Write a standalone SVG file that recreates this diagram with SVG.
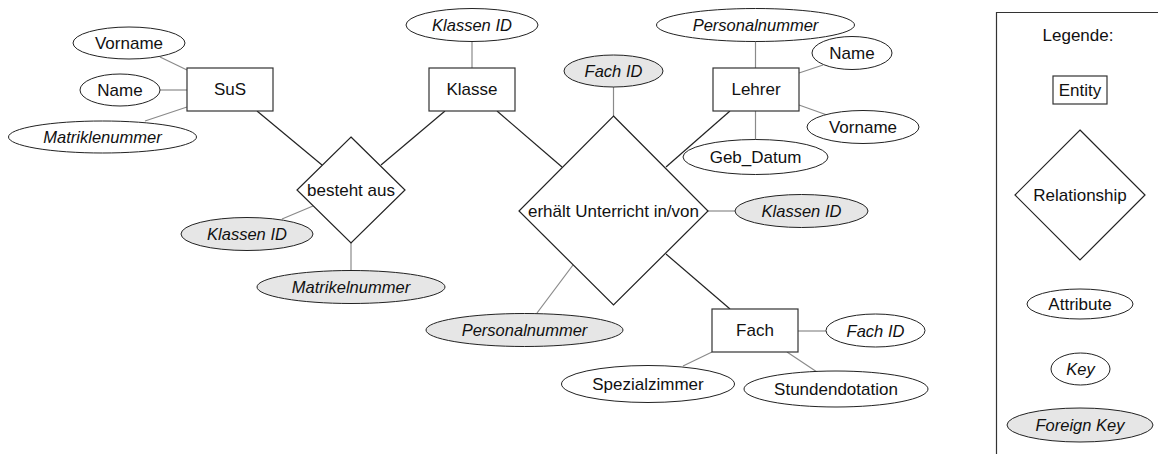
<svg xmlns="http://www.w3.org/2000/svg" width="1158" height="454" viewBox="0 0 1158 454">
<style>
text{font-family:"Liberation Sans",Arial,sans-serif;font-size:17px;fill:#111;text-anchor:middle;dominant-baseline:central}
.k{font-style:italic;font-size:16.5px}
.ent{fill:#fff;stroke:#333;stroke-width:1.2}
.rel{fill:#fff;stroke:#222;stroke-width:1.2}
.att{fill:#fff;stroke:#222;stroke-width:1}
.fk{fill:#e6e6e6;stroke:#222;stroke-width:1}
.c{stroke:#222;stroke-width:1.2;fill:none}
.a{stroke:#8a8a8a;stroke-width:1.2;fill:none}
</style>
<rect width="1158" height="454" fill="#fff"/>
<g id="connectors">
<line class="c" x1="257" y1="111" x2="322" y2="165"/>
<line class="c" x1="445" y1="111" x2="381" y2="165"/>
<line class="c" x1="497" y1="111" x2="562" y2="167"/>
<line class="c" x1="730" y1="111" x2="666" y2="167"/>
<line class="c" x1="666" y1="254" x2="730" y2="309"/>
<line class="a" x1="160" y1="57" x2="187" y2="70"/>
<line class="a" x1="160" y1="90" x2="187" y2="90"/>
<line class="a" x1="145" y1="121" x2="187" y2="107"/>
<line class="a" x1="472" y1="41" x2="472" y2="68"/>
<line class="a" x1="613.5" y1="87" x2="613.5" y2="116"/>
<line class="a" x1="755.5" y1="41" x2="755.5" y2="68"/>
<line class="a" x1="799" y1="73" x2="823" y2="65"/>
<line class="a" x1="799" y1="105" x2="827" y2="115"/>
<line class="a" x1="755.5" y1="111" x2="755.5" y2="140"/>
<line class="a" x1="282" y1="219" x2="313" y2="206"/>
<line class="a" x1="351" y1="243" x2="351" y2="270"/>
<line class="a" x1="708" y1="211" x2="735" y2="211"/>
<line class="a" x1="537" y1="313" x2="573" y2="265"/>
<line class="a" x1="798" y1="331" x2="826" y2="331"/>
<line class="a" x1="712" y1="352" x2="683" y2="366"/>
<line class="a" x1="787" y1="352" x2="817" y2="372"/>
</g>
<g id="SuS"><rect class="ent" x="187" y="68" width="86" height="43"/><text x="230" y="89.5">SuS</text></g>
<g id="SuS_Vorname"><ellipse class="att" cx="129" cy="43" rx="56" ry="16"/><text x="129" y="43">Vorname</text></g>
<g id="SuS_Name"><ellipse class="att" cx="120" cy="90" rx="40" ry="16"/><text x="120" y="90">Name</text></g>
<g id="SuS_Matriklenummer"><ellipse class="att" cx="102.5" cy="137" rx="94" ry="16"/><text class="k" x="102.5" y="137">Matriklenummer</text></g>
<g id="Klasse"><rect class="ent" x="429" y="68" width="86" height="43"/><text x="472" y="89.5">Klasse</text></g>
<g id="Klasse_KlassenID"><ellipse class="att" cx="472" cy="25" rx="66" ry="16.5"/><text class="k" x="472" y="25">Klassen ID</text></g>
<g id="Lehrer"><rect class="ent" x="713" y="68" width="86" height="43"/><text x="756" y="89.5">Lehrer</text></g>
<g id="Lehrer_Personalnummer"><ellipse class="att" cx="755.5" cy="25" rx="99" ry="16.5"/><text class="k" x="755.5" y="25">Personalnummer</text></g>
<g id="Lehrer_Name"><ellipse class="att" cx="852" cy="53" rx="40" ry="16.5"/><text x="852" y="53">Name</text></g>
<g id="Lehrer_Vorname"><ellipse class="att" cx="863" cy="127" rx="56" ry="16.5"/><text x="863" y="127">Vorname</text></g>
<g id="Lehrer_GebDatum"><ellipse class="att" cx="755.5" cy="157" rx="72.5" ry="17.5"/><text x="755.5" y="157">Geb_Datum</text></g>
<g id="besteht_aus"><polygon class="rel" points="351,137 405,190 351,243 297,190"/><text x="351" y="190">besteht aus</text></g>
<g id="besteht_KlassenID"><ellipse class="fk" cx="247" cy="234" rx="66" ry="16.5"/><text class="k" x="247" y="234">Klassen ID</text></g>
<g id="besteht_Matrikelnummer"><ellipse class="fk" cx="351" cy="287" rx="94" ry="16.5"/><text class="k" x="351" y="287">Matrikelnummer</text></g>
<g id="erhaelt_Unterricht"><polygon class="rel" points="613.5,116 708,211 613.5,305 519,211"/><text x="613.5" y="211">erhält Unterricht in/von</text></g>
<g id="erhaelt_FachID"><ellipse class="fk" cx="613.5" cy="71" rx="49.5" ry="16"/><text class="k" x="613.5" y="71">Fach ID</text></g>
<g id="erhaelt_KlassenID"><ellipse class="fk" cx="801.5" cy="211" rx="66.5" ry="16.5"/><text class="k" x="801.5" y="211">Klassen ID</text></g>
<g id="erhaelt_Personalnummer"><ellipse class="fk" cx="524.5" cy="330" rx="98.5" ry="16.5"/><text class="k" x="524.5" y="330">Personalnummer</text></g>
<g id="Fach"><rect class="ent" x="712" y="309" width="86" height="43"/><text x="755" y="330.5">Fach</text></g>
<g id="Fach_FachID"><ellipse class="att" cx="875.5" cy="330.5" rx="49.5" ry="16.5"/><text class="k" x="875.5" y="330.5">Fach ID</text></g>
<g id="Fach_Spezialzimmer"><ellipse class="att" cx="648" cy="384" rx="86.5" ry="18.5"/><text x="648" y="384">Spezialzimmer</text></g>
<g id="Fach_Stundendotation"><ellipse class="att" cx="836" cy="389" rx="92" ry="18"/><text x="836" y="389">Stundendotation</text></g>
<g id="legend">
<polyline points="1158,12.5 996.5,12.5 996.5,454" fill="none" stroke="#333" stroke-width="1.2"/>
<text x="1078" y="35">Legende:</text>
<rect class="ent" x="1053" y="76" width="54" height="28"/><text x="1080" y="90">Entity</text>
<polygon class="rel" points="1080,130 1145,195 1080,260 1015,195"/><text x="1080" y="195">Relationship</text>
<ellipse class="att" cx="1080" cy="304" rx="53" ry="15"/><text x="1080" y="304">Attribute</text>
<ellipse class="att" cx="1080.5" cy="369" rx="29.5" ry="16"/><text class="k" x="1080.5" y="369">Key</text>
<ellipse class="fk" cx="1080" cy="425" rx="73" ry="17"/><text class="k" x="1080" y="425">Foreign Key</text>
</g>
</svg>
